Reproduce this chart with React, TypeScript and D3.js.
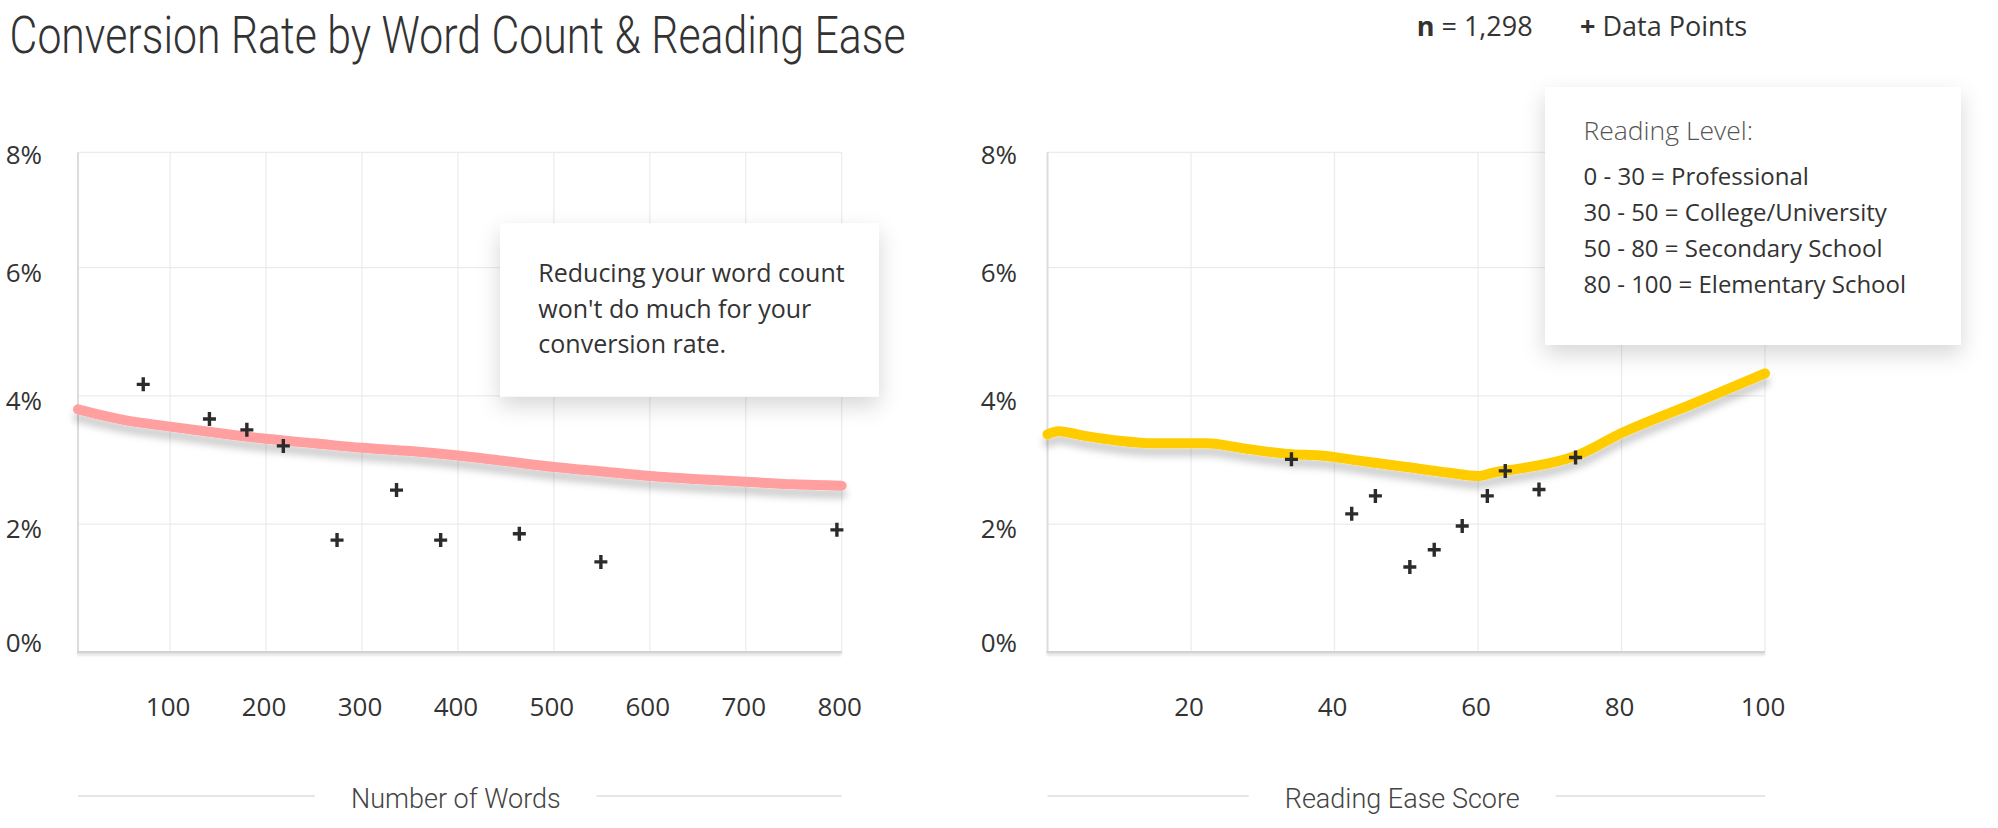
//@ts-nocheck
import * as d3 from "d3";
import React, { useEffect, useRef } from "react";

const title = "Conversion Rate by Word Count & Reading Ease";
const sampleSize = "1,298";
const legendLabel = "Data Points";

const yTicks = [0, 2, 4, 6, 8];
const wordTicks = [100, 200, 300, 400, 500, 600, 700, 800];
const easeTicks = [20, 40, 60, 80, 100];

// word count panel
const wordPointX = [72, 141, 180, 218, 274, 336, 382, 464, 549, 795];
const wordPointY = [4.18, 3.64, 3.47, 3.22, 1.75, 2.53, 1.75, 1.85, 1.41, 1.91];
const wordTrendX = [4, 50, 100, 150, 200, 250, 300, 350, 400, 450, 500, 550, 600, 650, 700, 750, 800];
const wordTrendY = [3.79, 3.63, 3.52, 3.42, 3.33, 3.26, 3.19, 3.14, 3.07, 2.98, 2.89, 2.82, 2.75, 2.7, 2.66, 2.62, 2.6];

// reading ease panel
const easePointX = [34.0, 42.4, 45.7, 50.5, 53.9, 57.8, 61.3, 63.8, 68.5, 73.6];
const easePointY = [3.01, 2.16, 2.44, 1.33, 1.6, 1.97, 2.44, 2.83, 2.54, 3.04];
const easeTrendX = [0, 1.5, 5, 10, 15, 22, 28, 34, 38, 44, 50, 56, 60, 62, 66, 70, 74, 80, 90, 100];
const easeTrendY = [3.4, 3.45, 3.38, 3.3, 3.26, 3.26, 3.17, 3.09, 3.07, 2.98, 2.89, 2.8, 2.75, 2.8, 2.87, 2.95, 3.08, 3.42, 3.88, 4.35];

const wordNote = ["Reducing your word count", "won't do much for your", "conversion rate."];
const levelTitle = "Reading Level:";
const levelLines = [
  "0 - 30 = Professional",
  "30 - 50 = College/University",
  "50 - 80 = Secondary School",
  "80 - 100 = Elementary School",
];

const W = 1998;
const H = 828;
const top = 152.3;
const bottom = 652.3;
const sans = "'Open Sans', 'Noto Sans', sans-serif";
const light = "Roboto, 'Open Sans', sans-serif";

const panels = [
  {
    key: "words",
    x0: 78,
    x1: 841.7,
    domain: [4, 800],
    ticks: wordTicks,
    px: wordPointX,
    py: wordPointY,
    tx: wordTrendX,
    ty: wordTrendY,
    color: "#ff9f9f",
    axisTitle: "Number of Words",
    labelRight: 42,
  },
  {
    key: "ease",
    x0: 1047.5,
    x1: 1765,
    domain: [0, 100],
    ticks: easeTicks,
    px: easePointX,
    py: easePointY,
    tx: easeTrendX,
    ty: easeTrendY,
    color: "#ffcc00",
    axisTitle: "Reading Ease Score",
    labelRight: 1017,
  },
];

const y = d3.scaleLinear().domain([0, 7.8]).range([bottom, top]);

function drawChart(node) {
  const svg = d3.select(node);
  svg.selectAll("*").remove();

  const defs = svg.append("defs");
  const shadow = (id, dy, sd, op) =>
    defs
      .append("filter")
      .attr("id", id)
      .attr("filterUnits", "userSpaceOnUse")
      .attr("x", 0)
      .attr("y", 0)
      .attr("width", W)
      .attr("height", H)
      .append("feDropShadow")
      .attr("dx", 0)
      .attr("dy", dy)
      .attr("stdDeviation", sd)
      .attr("flood-color", "#000")
      .attr("flood-opacity", op);
  shadow("lineShadow", 8, 3.5, 0.19);
  shadow("boxShadow", 9, 11, 0.16);
  shadow("axisShadow", 2, 1.2, 0.12);

  svg.append("rect").attr("width", W).attr("height", H).attr("fill", "#fff");

  // title + header
  svg
    .append("text")
    .attr("x", 9.6)
    .attr("y", 53)
    .attr("font-family", light)
    .attr("font-weight", 300)
    .attr("font-size", 52)
    .attr("fill", "#333")
    .attr("textLength", 896)
    .attr("lengthAdjust", "spacingAndGlyphs")
    .text(title);

  const n = svg
    .append("text")
    .attr("x", 1416.7)
    .attr("y", 36)
    .attr("font-family", sans)
    .attr("font-size", 27)
    .attr("fill", "#333");
  n.append("tspan").attr("font-weight", 700).text("n");
  n.append("tspan").text(` = ${sampleSize}`);

  const lg = svg
    .append("text")
    .attr("x", 1580)
    .attr("y", 36)
    .attr("font-family", sans)
    .attr("font-size", 27)
    .attr("fill", "#333");
  lg.append("tspan").attr("font-weight", 700).text("+");
  lg.append("tspan").text(` ${legendLabel}`);

  panels.forEach((p) => {
    const x = d3.scaleLinear().domain(p.domain).range([p.x0, p.x1]);
    const g = svg.append("g");

    // grid
    g.append("g")
      .selectAll("line")
      .data(yTicks.filter((v) => v > 0))
      .join("line")
      .attr("x1", p.x0)
      .attr("x2", p.x1)
      .attr("y1", (v) => Math.max(y(v), top))
      .attr("y2", (v) => Math.max(y(v), top))
      .attr("stroke", "#ebebeb")
      .attr("stroke-width", 1.2);
    g.append("g")
      .selectAll("line")
      .data(p.ticks)
      .join("line")
      .attr("x1", (v) => x(v))
      .attr("x2", (v) => x(v))
      .attr("y1", top)
      .attr("y2", bottom)
      .attr("stroke", "#ebebeb")
      .attr("stroke-width", 1.2);

    // axes
    g.append("line")
      .attr("x1", p.x0)
      .attr("x2", p.x0)
      .attr("y1", top)
      .attr("y2", bottom)
      .attr("stroke", "#dcdcdc")
      .attr("stroke-width", 2);
    g.append("line")
      .attr("x1", p.x0 - 1)
      .attr("x2", p.x1)
      .attr("y1", bottom)
      .attr("y2", bottom)
      .attr("stroke", "#d2d2d2")
      .attr("stroke-width", 2.5)
      .attr("filter", "url(#axisShadow)");

    // tick labels
    g.append("g")
      .selectAll("text")
      .data(yTicks)
      .join("text")
      .attr("x", p.labelRight)
      .attr("y", (v) => Math.max(y(v), top) + (v === 0 ? -10 : v === 8 ? 2 : 4))
      .attr("text-anchor", "end")
      .attr("dominant-baseline", "central")
      .attr("font-family", sans)
      .attr("font-size", 26)
      .attr("fill", "#333")
      .text((v) => `${v}%`);
    g.append("g")
      .selectAll("text")
      .data(p.ticks)
      .join("text")
      .attr("x", (v) => x(v) - 2)
      .attr("y", 706)
      .attr("text-anchor", "middle")
      .attr("dominant-baseline", "central")
      .attr("font-family", sans)
      .attr("font-size", 26)
      .attr("fill", "#333")
      .text((v) => v);

    // axis title with flanking rules
    const cx = (p.x0 + p.x1) / 2;
    const at = g
      .append("text")
      .attr("x", cx - 4)
      .attr("y", 808)
      .attr("text-anchor", "middle")
      .attr("font-family", light)
      .attr("font-weight", 300)
      .attr("font-size", 27)
      .attr("fill", "#444")
      .text(p.axisTitle);
    const half = at.node().getComputedTextLength() / 2 + 36;
    g.append("line")
      .attr("x1", p.x0)
      .attr("x2", cx - 4 - half)
      .attr("y1", 796)
      .attr("y2", 796)
      .attr("stroke", "#dedede")
      .attr("stroke-width", 1.5);
    g.append("line")
      .attr("x1", cx - 4 + half)
      .attr("x2", p.x1)
      .attr("y1", 796)
      .attr("y2", 796)
      .attr("stroke", "#dedede")
      .attr("stroke-width", 1.5);

    p.xs = x;
  });

  // callouts
  svg
    .append("rect")
    .attr("x", 500)
    .attr("y", 223.3)
    .attr("width", 379)
    .attr("height", 173.4)
    .attr("fill", "#fff")
    .attr("filter", "url(#boxShadow)");
  svg
    .append("g")
    .selectAll("text")
    .data(wordNote)
    .join("text")
    .attr("x", 538.3)
    .attr("y", (d, i) => 281.7 + i * 35.8)
    .attr("font-family", sans)
    .attr("font-size", 25)
    .attr("fill", "#333")
    .text((d) => d);

  svg
    .append("rect")
    .attr("x", 1545)
    .attr("y", 87)
    .attr("width", 416)
    .attr("height", 258)
    .attr("fill", "#fff")
    .attr("filter", "url(#boxShadow)");
  svg
    .append("text")
    .attr("x", 1583.5)
    .attr("y", 140)
    .attr("font-family", sans)
    .attr("font-weight", 300)
    .attr("font-size", 26.5)
    .attr("fill", "#555")
    .text(levelTitle);
  svg
    .append("g")
    .selectAll("text")
    .data(levelLines)
    .join("text")
    .attr("x", 1583.5)
    .attr("y", (d, i) => 185 + i * 36)
    .attr("font-family", sans)
    .attr("font-size", 24)
    .attr("fill", "#333")
    .text((d) => d);

  // trend lines + points
  panels.forEach((p) => {
    const x = p.xs;
    const line = d3
      .line()
      .x((i) => x(p.tx[i]))
      .y((i) => y(p.ty[i]))
      .curve(d3.curveMonotoneX);
    svg
      .append("path")
      .attr("d", line(d3.range(p.tx.length)))
      .attr("fill", "none")
      .attr("stroke", p.color)
      .attr("stroke-width", 10)
      .attr("stroke-linecap", "round")
      .attr("stroke-linejoin", "round")
      .attr("filter", "url(#lineShadow)");

    svg
      .append("g")
      .selectAll("path")
      .data(d3.range(p.px.length))
      .join("path")
      .attr("d", (i) => {
        const cx = x(p.px[i]);
        const cy = y(p.py[i]);
        return `M${cx - 6.5},${cy}h13M${cx},${cy - 7}v14`;
      })
      .attr("stroke", "#2b2b2b")
      .attr("stroke-width", 3.4);
  });
}

export default function App() {
  const ref = useRef(null);

  useEffect(() => {
    if (ref.current) drawChart(ref.current);
  }, []);

  return (
    <svg
      ref={ref}
      width={W}
      height={H}
      style={{ position: "absolute", left: 0, top: 0, display: "block" }}
    />
  );
}
